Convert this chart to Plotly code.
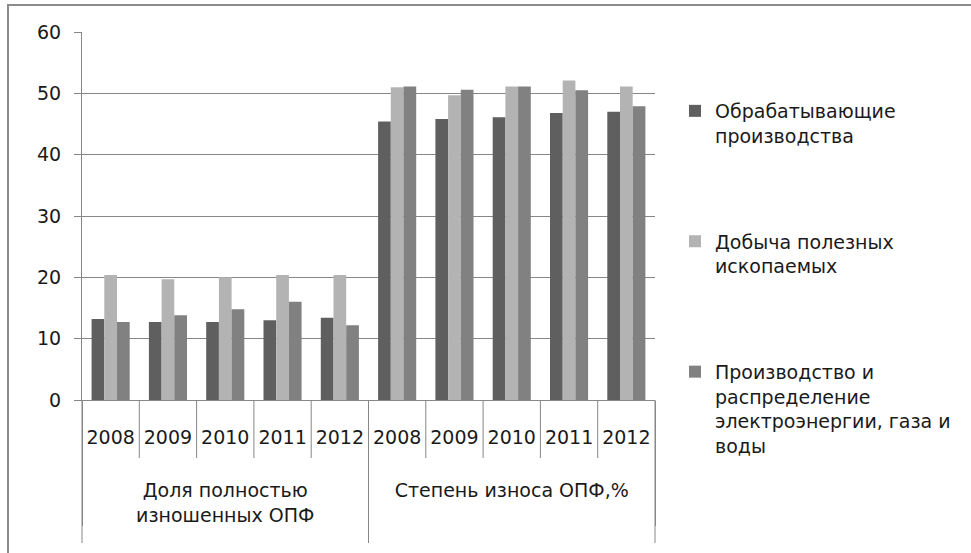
import plotly.graph_objects as go

years = ["2008", "2009", "2010", "2011", "2012"]
groups = ["Доля полностью<br>изношенных ОПФ", "Степень износа ОПФ,%"]

# Values per indicator group (5 years each)
manufacturing = [13.2, 12.7, 12.7, 13.0, 13.4, 45.4, 45.8, 46.1, 46.8, 47.0]
mining = [20.4, 19.7, 20.0, 20.4, 20.4, 51.0, 49.7, 51.1, 52.1, 51.1]
utilities = [12.7, 13.8, 14.8, 16.0, 12.2, 51.1, 50.6, 51.1, 50.5, 47.9]

series_names = [
    "Обрабатывающие<br>производства",
    "Добыча полезных<br>ископаемых",
    "Производство и<br>распределение<br>электроэнергии, газа и<br>воды",
]
series_colors = ["#5f5f5f", "#b3b3b3", "#818181"]

# group labels sit two text lines lower, below the row of years
group_labels = ["<br><br>" + g for g in groups]
x_outer = [g for g in group_labels for _ in years]
x_inner = years * len(groups)

W, H = 971, 553
L, R, T, B = 82, 316, 32, 153
plot_w = W - L - R
plot_h = H - T - B

FONT = "DejaVu Sans"
TXT = "#1a1a1a"
GRAY = "#878787"

fig = go.Figure()
for i, (name, vals, col) in enumerate(zip(series_names, [manufacturing, mining, utilities], series_colors)):
    fig.add_trace(go.Bar(
        x=[x_outer, x_inner], y=vals, name=name, marker_color=col,
        marker_line_width=0, legendgroup=f"g{i}",
    ))

shapes = []
# vertical separators between year labels
n_cat = len(x_inner)
for i in range(1, n_cat):
    shapes.append(dict(type="line", xref="x domain", yref="y domain",
                       x0=i / n_cat, x1=i / n_cat, y0=0, y1=-58 / plot_h,
                       line=dict(color=GRAY, width=1)))
# group separators run down through both label rows
for xd in (0, 0.5, 1):
    shapes.append(dict(type="line", xref="x domain", yref="y domain",
                       x0=xd, x1=xd, y0=0, y1=-143 / plot_h,
                       line=dict(color=GRAY, width=1)))

# outer chart frame
def px_x(p):
    return (p - L) / plot_w

def px_y(p):
    return (H - B - p) / plot_h

shapes.append(dict(type="line", xref="paper", yref="paper",
                   x0=px_x(7), x1=px_x(971), y0=px_y(5), y1=px_y(5),
                   line=dict(color="#8c8c8c", width=2)))
shapes.append(dict(type="line", xref="paper", yref="paper",
                   x0=px_x(8), x1=px_x(8), y0=px_y(5), y1=px_y(553),
                   line=dict(color="#8c8c8c", width=2)))

fig.update_layout(
    width=W, height=H,
    margin=dict(l=L, r=R, t=T, b=B, autoexpand=False),
    paper_bgcolor="white", plot_bgcolor="white",
    barmode="group", bargap=0.335, bargroupgap=0,
    font=dict(family=FONT, size=19, color=TXT),
    showlegend=True,
    legend=dict(
        x=px_x(675), xanchor="left", y=px_y(92), yanchor="top",
        font=dict(family=FONT, size=19, color=TXT),
        tracegroupgap=78, valign="top", bgcolor="rgba(0,0,0,0)",
        itemclick=False, maxheight=700,
    ),
    shapes=shapes,
    xaxis=dict(
        type="multicategory", showline=True, linecolor=GRAY, linewidth=1,
        showgrid=False, ticks="", tickangle=0, ticklabelstandoff=20,
        showdividers=True, dividercolor=GRAY, dividerwidth=1,
        tickfont=dict(family=FONT, size=19, color=TXT),
    ),
    yaxis=dict(
        range=[0, 60], dtick=10, showline=True, linecolor=GRAY, linewidth=1,
        ticks="outside", ticklen=7, tickcolor=GRAY,
        showgrid=True, gridcolor=GRAY, gridwidth=1, zeroline=False,
        tickfont=dict(family=FONT, size=19, color=TXT),
        ticklabelstandoff=9,
    ),
)

fig.write_html("out.html")
